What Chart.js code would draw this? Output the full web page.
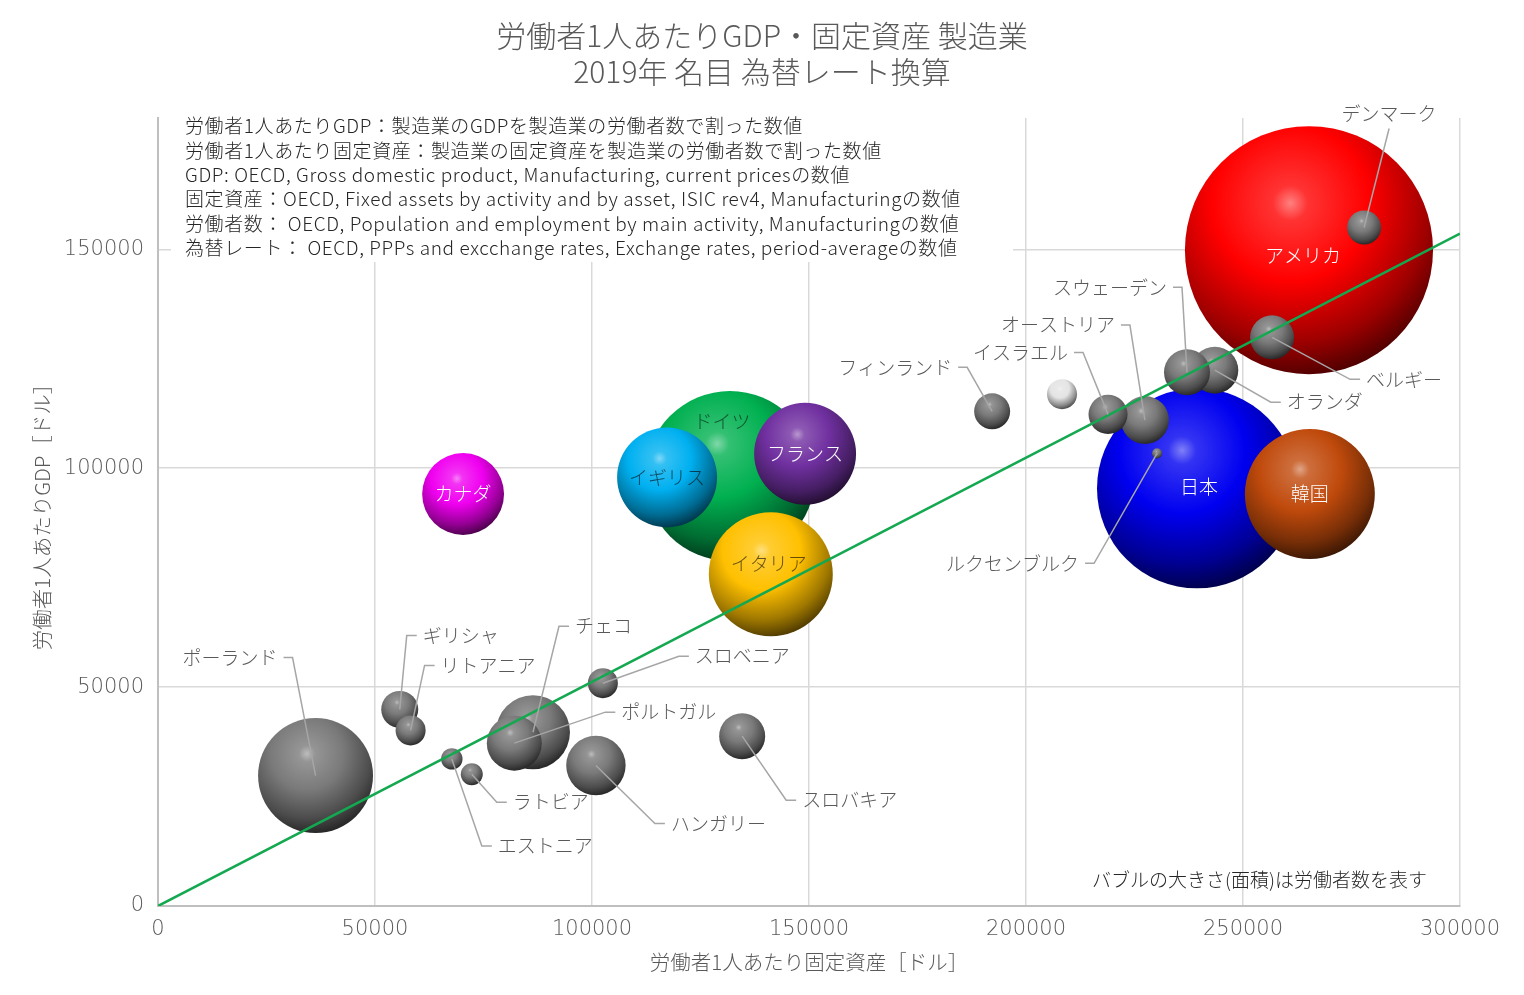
<!DOCTYPE html>
<html lang="ja">
<head>
<meta charset="utf-8">
<title>労働者1人あたりGDP・固定資産 製造業</title>
<script src="https://cdn.jsdelivr.net/npm/chart.js@4.4.1/dist/chart.umd.min.js"></script>
<style>
  html, body { margin: 0; padding: 0; background: #fff; overflow: hidden; }
  canvas { display: block; }
</style>
</head>
<body>
<canvas id="myChart" width="1524" height="995"></canvas>
<script>
// 2019年 製造業 (読み取り値)
const countries = [
  'アメリカ', '日本', '韓国', 'ドイツ', 'イギリス', 'フランス', 'イタリア', 'カナダ', 'ポーランド',
  'デンマーク', 'ベルギー', 'スウェーデン', 'オランダ', 'オーストリア', 'イスラエル', 'ノルウェー',
  'フィンランド', 'ルクセンブルク', 'ギリシャ', 'リトアニア', 'エストニア', 'ラトビア', 'チェコ',
  'ポルトガル', 'スロベニア', 'ハンガリー', 'スロバキア'
];
// 労働者1人あたり固定資産 [ドル]
const assetPerWorker = [
  265200, 239400, 265400, 131800, 117300, 149100, 141200, 70300, 36300,
  277900, 256700, 237100, 243500, 227400, 218900, 208300,
  192200, 230200, 55700, 58200, 67700, 72300, 86400,
  82100, 102500, 100900, 134600
];
// 労働者1人あたりGDP [ドル]
const gdpPerWorker = [
  149800, 95400, 94100, 98200, 97900, 103300, 75800, 94100, 29800,
  155000, 129900, 121900, 122400, 111000, 112300, 116900,
  113000, 103400, 44900, 40100, 33600, 30100, 39700,
  37200, 50900, 32100, 38800
];
// 労働者数 [千人] (バブルの面積)
const workers = [
  15700, 10200, 4310, 7370, 2550, 2650, 3920, 1710, 3370,
  295, 494, 540, 563, 588, 388, 230,
  330, 26, 349, 230, 117, 123, 1396,
  771, 230, 900, 540
];
// 近似直線
const trendX = [0, 300000];
const trendY = [0, 153600];

const xTicks = [0, 50000, 100000, 150000, 200000, 250000, 300000];
const yTicks = [0, 50000, 100000, 150000];

const notes = [
  '労働者1人あたりGDP：製造業のGDPを製造業の労働者数で割った数値',
  '労働者1人あたり固定資産：製造業の固定資産を製造業の労働者数で割った数値',
  'GDP: OECD, Gross domestic product, Manufacturing, current pricesの数値',
  '固定資産：OECD, Fixed assets by activity and by asset, ISIC rev4, Manufacturingの数値',
  '労働者数： OECD, Population and employment by main activity, Manufacturingの数値',
  '為替レート： OECD, PPPs and excchange rates, Exchange rates, period-averageの数値'
];

const FONT = '"Noto Sans CJK JP", "Noto Sans", sans-serif';
const NUM_FONT = '"DejaVu Sans", sans-serif';
const TEXT = '#595959';

const bubbleColors = {
  'アメリカ': '#ff0000', '日本': '#0000f0', '韓国': '#c04a0c', 'ドイツ': '#00b050',
  'イギリス': '#00b0f0', 'フランス': '#7030a0', 'イタリア': '#ffc000', 'カナダ': '#f000f0',
  'ノルウェー': '#e4e4e4'
};

// ラベル配置 (バブル中心からのずれ, px)
const labelLayout = {
  'アメリカ': { inside: true, dx: -6, dy: 6, color: '#ffffff' },
  '日本': { inside: true, dx: 2, dy: -2, color: '#ffffff' },
  '韓国': { inside: true, dx: 0, dy: 0, color: '#ffffff' },
  'ドイツ': { inside: true, dx: -8, dy: -54, color: 'rgba(0,0,0,0.55)' },
  'イギリス': { inside: true, dx: 0, dy: 0, color: 'rgba(0,0,0,0.6)' },
  'フランス': { inside: true, dx: 0, dy: 0, color: '#ffffff' },
  'イタリア': { inside: true, dx: -2, dy: -10, color: 'rgba(0,0,0,0.6)' },
  'カナダ': { inside: true, dx: 0, dy: 0, color: '#ffffff' },
  'デンマーク': { side: 'u', dx: 25, dy: -99 },
  'スウェーデン': { side: 'l', dx: -20, dy: -85 },
  'オーストリア': { side: 'l', dx: -30, dy: -95 },
  'イスラエル': { side: 'l', dx: -40, dy: -62 },
  'フィンランド': { side: 'l', dx: -40, dy: -44 },
  'ルクセンブルク': { side: 'l', dx: -78, dy: 110 },
  'ベルギー': { side: 'r', dx: 94, dy: 42 },
  'オランダ': { side: 'r', dx: 72, dy: 32 },
  'ポーランド': { side: 'l', dx: -38, dy: -118 },
  'ギリシャ': { side: 'r', dx: 23, dy: -74 },
  'リトアニア': { side: 'r', dx: 30, dy: -65 },
  'チェコ': { side: 'r', dx: 42, dy: -106 },
  'スロベニア': { side: 'r', dx: 92, dy: -27 },
  'ポルトガル': { side: 'r', dx: 107, dy: -31 },
  'ラトビア': { side: 'r', dx: 41, dy: 28 },
  'エストニア': { side: 'r', dx: 46, dy: 87 },
  'ハンガリー': { side: 'r', dx: 75, dy: 58 },
  'スロバキア': { side: 'r', dx: 60, dy: 64 }
};

const BUBBLE_SCALE = 0.99;

function mix(hex, target, t) {
  const a = parseInt(hex.slice(1), 16), b = parseInt(target.slice(1), 16);
  const ch = s => Math.round(((a >> s) & 255) * (1 - t) + ((b >> s) & 255) * t);
  return `rgb(${ch(16)}, ${ch(8)}, ${ch(0)})`;
}

function sphereFill(context) {
  const chart = context.chart;
  const p = context.raw;
  if (!chart.chartArea || !p) return '#808080';
  const x = chart.scales.x.getPixelForValue(p.x);
  const y = chart.scales.y.getPixelForValue(p.y);
  const r = p.r;
  const base = bubbleColors[p.name] || '#7a7a7a';
  const hx = x - r * 0.15, hy = y - r * 0.38;
  const g = chart.ctx.createRadialGradient(hx, hy, 0, hx, hy, r * 1.4);
  g.addColorStop(0, mix(base, '#ffffff', 0.5));
  g.addColorStop(0.1, mix(base, '#ffffff', 0.2));
  g.addColorStop(0.45, base);
  g.addColorStop(0.8, mix(base, '#000000', 0.38));
  g.addColorStop(1, mix(base, '#000000', 0.68));
  return g;
}

const points = countries.map((name, i) => ({
  x: assetPerWorker[i],
  y: gdpPerWorker[i],
  r: Math.sqrt(workers[i]) * BUBBLE_SCALE,
  name
})).sort((a, b) => b.r - a.r);

// 軸の余白を固定して描画領域を (158,118)-(1460,906) に合わせる
const fixScale = size => s => {
  if (s.isHorizontal()) s.height = size; else s.width = size;
  s.paddingLeft = 0; s.paddingRight = 0; s.paddingTop = 0; s.paddingBottom = 0;
};

const textPlugin = {
  id: 'textPlugin',
  beforeDatasetsDraw(chart) {
    const c = chart.ctx;
    c.save();
    c.fillStyle = '#ffffff';
    c.fillRect(171, 112, 842, 150);
    c.fillStyle = '#262626';
    c.font = `300 19px ${FONT}`;
    c.letterSpacing = '0.6px';
    c.textAlign = 'left';
    c.textBaseline = 'middle';
    notes.forEach((t, i) => c.fillText(t, 185, 126 + i * 24.4));
    c.restore();
  },
  afterDatasetsDraw(chart) {
    const c = chart.ctx;
    const xs = chart.scales.x, ys = chart.scales.y;
    c.save();
    c.font = `300 19px ${FONT}`;
    c.textBaseline = 'middle';
    points.forEach(p => {
      const L = labelLayout[p.name];
      if (!L) return;
      const cx = xs.getPixelForValue(p.x), cy = ys.getPixelForValue(p.y);
      const ax = cx + L.dx, ay = cy + L.dy;
      if (L.inside) {
        c.fillStyle = L.color;
        c.textAlign = 'center';
        c.fillText(p.name, ax, ay);
        return;
      }
      c.strokeStyle = '#a6a6a6';
      c.lineWidth = 1.5;
      c.beginPath();
      c.moveTo(cx, cy);
      if (L.side === 'u') {
        c.lineTo(ax, ay);
      } else if (L.side === 'l') {
        c.lineTo(ax + 15, ay);
        c.lineTo(ax + 6, ay);
      } else {
        c.lineTo(ax - 16, ay);
        c.lineTo(ax - 6, ay);
      }
      c.stroke();
      c.fillStyle = TEXT;
      if (L.side === 'u') {
        c.textAlign = 'center';
        c.fillText(p.name, ax, ay - 15);
      } else {
        c.textAlign = L.side === 'l' ? 'right' : 'left';
        c.fillText(p.name, ax, ay);
      }
    });
    c.fillStyle = '#262626';
    c.textAlign = 'left';
    c.fillText('バブルの大きさ(面積)は労働者数を表す', 1092, 880);
    c.restore();
  },
  afterDraw(chart) {
    const c = chart.ctx;
    c.save();
    c.fillStyle = TEXT;
    c.font = `300 30px ${FONT}`;
    c.textAlign = 'center';
    c.textBaseline = 'middle';
    c.fillText('労働者1人あたりGDP・固定資産 製造業', 762, 36);
    c.fillText('2019年 名目 為替レート換算', 762, 72);
    c.restore();
  }
};

const ctx = document.getElementById('myChart');

const myChart = new Chart(ctx, {
  type: 'bubble',
  data: {
    datasets: [
      {
        type: 'line',
        label: '近似直線',
        data: trendX.map((x, i) => ({ x, y: trendY[i] })),
        borderColor: '#14a850',
        borderWidth: 2.5,
        pointRadius: 0,
        order: 0
      },
      {
        label: '労働者数',
        data: points,
        backgroundColor: sphereFill,
        borderWidth: 0,
        clip: false,
        order: 1
      }
    ]
  },
  options: {
    responsive: false,
    animation: false,
    events: [],
    layout: { autoPadding: false, padding: { top: 118, right: 64, bottom: 0, left: 0 } },
    plugins: {
      legend: { display: false },
      tooltip: { enabled: false }
    },
    scales: {
      x: {
        type: 'linear',
        min: 0,
        max: 300000,
        afterFit: fixScale(89),
        afterBuildTicks: s => { s.ticks = xTicks.map(v => ({ value: v })); },
        grid: { color: '#d9d9d9', lineWidth: 1.5, drawTicks: false },
        border: { color: '#bfbfbf', width: 2 },
        ticks: {
          color: TEXT,
          font: { family: NUM_FONT, size: 21, weight: 300 },
          padding: 11,
          maxRotation: 0,
          callback: v => String(v)
        },
        title: {
          display: true,
          text: '労働者1人あたり固定資産［ドル］',
          color: TEXT,
          font: { family: FONT, size: 20.5, weight: 300 },
          padding: { top: 0, bottom: 20 }
        }
      },
      y: {
        type: 'linear',
        min: 0,
        max: 180000,
        afterFit: fixScale(158),
        afterBuildTicks: s => { s.ticks = yTicks.map(v => ({ value: v })); },
        grid: { color: '#d9d9d9', lineWidth: 1.5, drawTicks: false },
        border: { color: '#bfbfbf', width: 2 },
        ticks: {
          color: TEXT,
          font: { family: NUM_FONT, size: 21, weight: 300 },
          padding: 14,
          callback: v => String(v)
        },
        title: {
          display: true,
          text: '労働者1人あたりGDP［ドル］',
          color: TEXT,
          font: { family: FONT, size: 20.5, weight: 300 },
          padding: { top: 30, bottom: 0 }
        }
      }
    }
  },
  plugins: [textPlugin]
});
</script>
</body>
</html>
